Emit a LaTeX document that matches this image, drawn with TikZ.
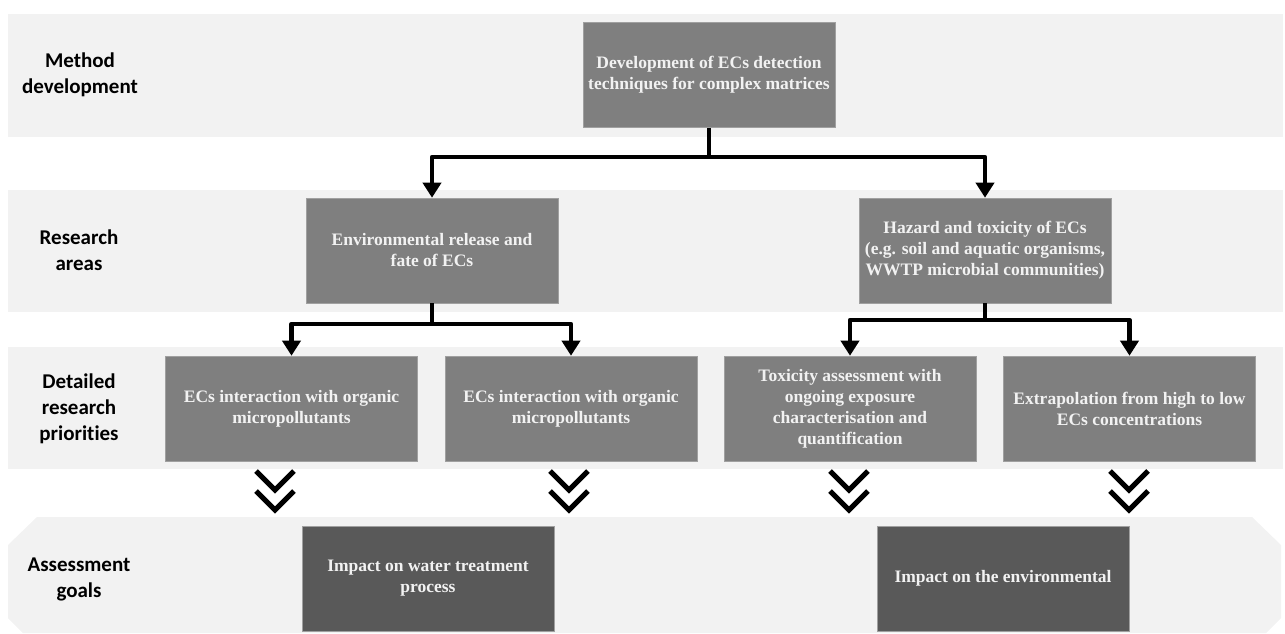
\documentclass[tikz,border=0pt]{standalone}
\usepackage{fontspec}
\setmainfont{Liberation Serif}
\newfontfamily\labfont[Ligatures=NoCommon]{Carlito}
\usetikzlibrary{arrows.meta}
\definecolor{bandgray}{HTML}{F2F2F2}
\definecolor{boxgray}{HTML}{7F7F7F}
\definecolor{goalgray}{HTML}{595959}
\definecolor{boxline}{HTML}{A0A0A0}
\definecolor{boxtext}{HTML}{F2F2F2}
\tikzset{
  band/.style={fill=bandgray, draw=none},
  rowlabel/.style={font=\labfont\bfseries\fontsize{21}{26}\selectfont, align=center, text=black, inner sep=0pt},
  box/.style={fill=boxgray, draw=boxline, line width=0.6pt, minimum width=252pt, minimum height=105pt,
     align=center, text=boxtext, inner sep=0pt, font=\bfseries\fontsize{17.5}{21}\selectfont},
  goalbox/.style={box, fill=goalgray},
  conn/.style={line width=4.5pt, line join=round, draw=black},
  arr/.style={conn, -{Triangle[width=18pt,length=15pt]}},
  chev/.style={line width=5pt, line join=miter, draw=black}
}
\begin{document}
\begin{tikzpicture}[x=1pt,y=-1pt]
\useasboundingbox (0,0) rectangle (1285,633);
% bands
\fill[band] (8,14) rectangle (1283,137);
\fill[band] (8,190) rectangle (1283,312);
\fill[band] (8,347) rectangle (1283,469);
\fill[band] (37,517) -- (1252,517) -- (1281,545) -- (1281,618) -- (1266,633) -- (23,633) -- (8,618) -- (8,545) -- cycle;
% row labels
\node[rowlabel] (l1) at (80,75) {Method\\development};
\node[rowlabel] (l2) at (79,250.5) {Research\\areas};
\node[rowlabel] (l3) at (79,408.5) {Detailed\\research\\priorities};
\node[rowlabel] (l4) at (79,579.5) {Assessment\\goals};
% boxes
\node[box] (top) at (709,75) {Development of ECs detection\\techniques for complex matrices};
\node[box] (env) at (432,250.5) {Environmental release and\\fate of ECs};
\node[box] (haz) at (985,250.5) {Hazard and toxicity of ECs\\(e.g. soil and aquatic organisms,\\WWTP microbial communities)};
\node[box] (d1) at (291.5,408.5) {ECs interaction with organic\\micropollutants};
\node[box] (d2) at (571,408.5) {ECs interaction with organic\\micropollutants};
\node[box] (d3) at (850,408.5) {Toxicity assessment with\\ongoing exposure\\characterisation and\\quantification};
\node[box] (d4) at (1129.5,408.5) {Extrapolation from high to low\\ECs concentrations};
\node[goalbox] (g1) at (428,578.5) {Impact on water treatment\\process};
\node[goalbox] (g2) at (1003,578.5) {Impact on the environmental};
% junction coordinates
\coordinate (j0) at (709,157);
\coordinate (j1) at (432,324);
\coordinate (j2) at (985,320);
% connectors
\draw[conn] (top.south) -- (j0);
\draw[arr] (j0) -| (env.north);
\draw[arr] (j0) -| (haz.north);
\draw[conn] (env.south) -- (j1);
\draw[arr] (j1) -| (d1.north);
\draw[arr] (j1) -| (d2.north);
\draw[conn] (haz.south) -- (j2);
\draw[arr] (j2) -| (d3.north);
\draw[arr] (j2) -| (d4.north);
% chevrons
\foreach \cx in {275,569,849,1129}{
  \draw[chev] (\cx-19,471) -- (\cx,490) -- (\cx+19,471);
  \draw[chev] (\cx-19,491) -- (\cx,510) -- (\cx+19,491);
}
\end{tikzpicture}
\end{document}
